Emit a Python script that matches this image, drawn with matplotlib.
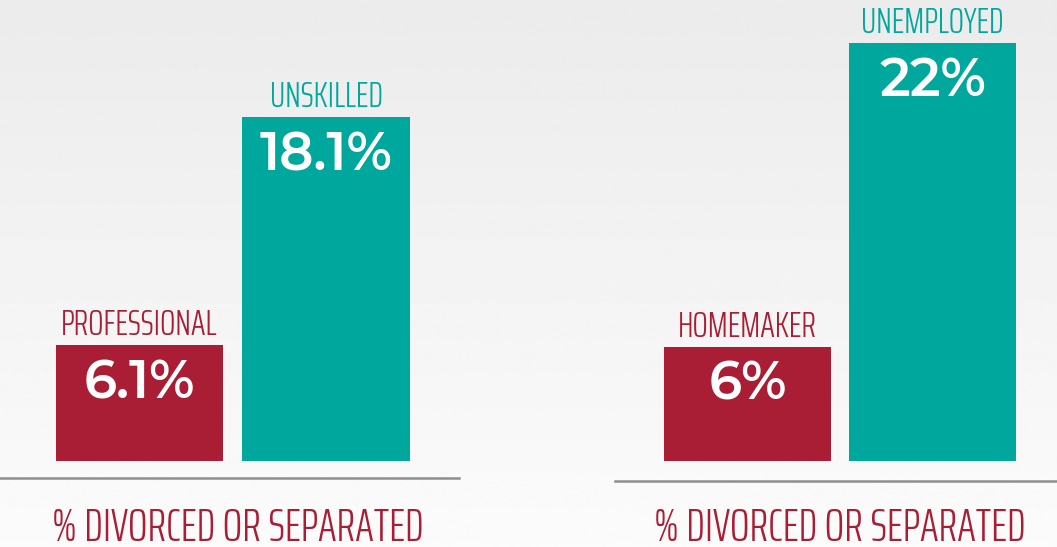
import numpy as np
import matplotlib.pyplot as plt

# data
left_categories = ['PROFESSIONAL', 'UNSKILLED']
left_values = [6.1, 18.1]
right_categories = ['HOMEMAKER', 'UNEMPLOYED']
right_values = [6, 22]
panel_title = '% DIVORCED OR SEPARATED'

RED = '#a91e34'
TEAL = '#00a79d'
bar_colors = [RED, TEAL]
narrow = ['Saira ExtraCondensed', 'DejaVu Sans']
numfont = ['Montserrat Alternates', 'DejaVu Sans']
W, H = 1057, 547
PT = 72 / 100  # points per pixel at dpi 100
BASE_PX = 461  # pixel row of bar bottoms
PX_PER_UNIT = 19

fig = plt.figure(figsize=(W / 100, H / 100), dpi=100)

# soft gray-to-white background
bg = fig.add_axes([0, 0, 1, 1], zorder=-10)
grad = np.linspace(0.922, 0.985, 256).reshape(-1, 1)
bg.imshow(grad, cmap='gray', vmin=0, vmax=1, aspect='auto', extent=[0, 1, 0, 1])
bg.axis('off')


def panel(left_px, right_px, center0_px, spacing_px, line_gap_px, cats, vals, title_x_px):
    ax = fig.add_axes([left_px / W, (H - BASE_PX) / H, (right_px - left_px) / W, BASE_PX / H])
    ax.set_facecolor('none')
    x = np.arange(len(cats))
    ax.bar(x, vals, width=167 / spacing_px, color=bar_colors)
    ax.set_xlim(-center0_px / spacing_px, (right_px - left_px - center0_px) / spacing_px)
    ax.set_ylim(0, BASE_PX / PX_PER_UNIT)
    for s in ['top', 'left', 'right']:
        ax.spines[s].set_visible(False)
    ax.spines['bottom'].set_position(('outward', line_gap_px * PT))
    ax.spines['bottom'].set_color('#8e8e8e')
    ax.spines['bottom'].set_linewidth(1.8)
    ax.set_xticks([])
    ax.set_yticks([])
    for xi, v, cat, col in zip(x, vals, cats, bar_colors):
        ax.annotate(f'{v:g}%', (xi, v), xytext=(0, -13 * PT), textcoords='offset points',
                    ha='center', va='top', color='white', fontsize=38,
                    family=numfont, fontweight=600)
        ax.annotate(cat, (xi, v), xytext=(0, 10 * PT), textcoords='offset points',
                    ha='center', va='baseline', color=col, fontsize=26,
                    family=narrow, fontweight=300)
    fig.text(title_x_px / W, (H - 541) / H, panel_title, ha='center', va='baseline',
             color=RED, fontsize=33, family=narrow, fontweight=300)
    return ax


panel(0, 459, 139.5, 186.5, 17, left_categories, left_values, 238)
panel(615, 1057, 132.5, 185, 20, right_categories, right_values, 840)

fig.savefig('out.png', dpi=100)
